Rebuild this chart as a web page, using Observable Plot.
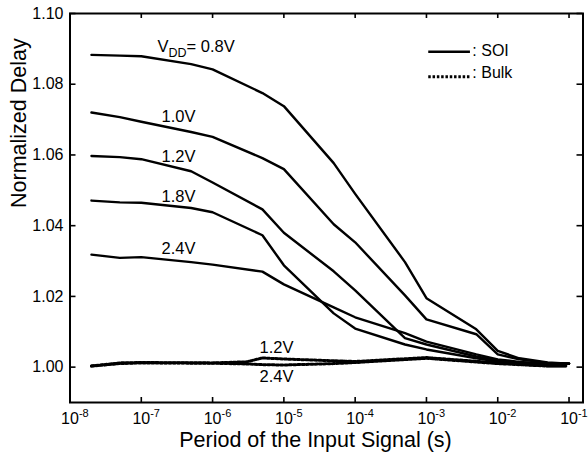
<!DOCTYPE html>
<html><head><meta charset="utf-8">
<script src="https://cdn.jsdelivr.net/npm/d3@7"></script>
<script src="https://cdn.jsdelivr.net/npm/@observablehq/plot@0.6"></script>
<style>
body{margin:0;background:#fff;}
#chart svg{font-family:"Liberation Sans",Arial,Helvetica,sans-serif;}
</style>
</head><body><div id="chart"></div>
<script>
// ---- data ----
const periods = [2e-8, 5e-8, 1e-7, 5e-7, 1e-6, 5e-6, 1e-5, 5e-5, 1e-4, 5e-4, 1e-3, 5e-3, 1e-2, 2e-2, 5e-2, 1e-1];
const soiVdd = ["0.8V", "1.0V", "1.2V", "1.8V", "2.4V"];
const soi08 = [1.0883, 1.0881, 1.0879, 1.0857, 1.0842, 1.0775, 1.0738, 1.0577, 1.0490, 1.0297, 1.0195, 1.0107, 1.0046, 1.0025, 1.0013, 1.0010];
const soi10 = [1.0720, 1.0707, 1.0694, 1.0665, 1.0651, 1.0591, 1.0560, 1.0404, 1.0353, 1.0203, 1.0135, 1.0093, 1.0036, 1.0022, 1.0012, 1.0010];
const soi12 = [1.0597, 1.0594, 1.0588, 1.0554, 1.0522, 1.0446, 1.0380, 1.0271, 1.0217, 1.0082, 1.0064, 1.0030, 1.0019, 1.0013, 1.0010, 1.0010];
const soi18 = [1.0471, 1.0466, 1.0465, 1.0450, 1.0438, 1.0373, 1.0288, 1.0152, 1.0109, 1.0064, 1.0050, 1.0025, 1.0016, 1.0012, 1.0010, 1.0010];
const soi24 = [1.0318, 1.0309, 1.0311, 1.0297, 1.0290, 1.0270, 1.0234, 1.0169, 1.0141, 1.0096, 1.0072, 1.0036, 1.0022, 1.0015, 1.0010, 1.0010];

const bulkPeriods = [2e-8, 5e-8, 1e-7, 1e-6, 3e-6, 5e-6, 1e-5, 5e-5, 1e-4, 1e-3, 1e-2, 5e-2, 9e-2];
const bulkVdd = ["1.2V", "2.4V"];
const bulk12 = [1.0003, 1.0012, 1.0013, 1.0012, 1.0015, 1.0026, 1.0023, 1.0018, 1.0016, 1.0027, 1.0012, 1.0004, 1.0004];
const bulk24 = [1.0003, 1.0010, 1.0012, 1.0011, 1.0009, 1.0007, 1.0006, 1.0010, 1.0013, 1.0025, 1.0010, 1.0003, 1.0003];

const xTicks = [1e-8, 1e-7, 1e-6, 1e-5, 1e-4, 1e-3, 1e-2, 1e-1];
const yTicks = [1.00, 1.02, 1.04, 1.06, 1.08, 1.10];
const xDomain = [1e-8, 0.157];
const yDomain = [0.99, 1.10];

// curve annotations (data coordinates)
const annText = ["VDD= 0.8V", "1.0V", "1.2V", "1.8V", "2.4V", "1.2V", "2.4V"];
const annX = [1.69e-7, 3.33e-7, 3.33e-7, 3.33e-7, 3.33e-7, 7.9e-6, 7.9e-6];
const annY = [1.0906, 1.0707, 1.0595, 1.0481, 1.0335, 1.0054, 0.9973];
const annAnchor = ["start", "middle", "middle", "middle", "middle", "middle", "middle"];

// legend (data coordinates)
const legText = [": SOI", ": Bulk"];
const legX1 = [1.077e-3, 1.077e-3];
const legX2 = [4.14e-3, 4.14e-3];
const legTextX = [4.4e-3, 4.4e-3];
const legLineY = [1.0892, 1.0821];
const legTextY = [1.0894, 1.0831];
const legDash = [null, "2.5,1.8"];

// ---- tables ----
const soiSeries = [soi08, soi10, soi12, soi18, soi24];
const soi = [];
soiSeries.forEach((vals, i) => vals.forEach((v, j) => soi.push({period: periods[j], delay: v, vdd: soiVdd[i]})));
const bulkSeries = [bulk12, bulk24];
const bulk = [];
bulkSeries.forEach((vals, i) => vals.forEach((v, j) => bulk.push({period: bulkPeriods[j], delay: v, vdd: bulkVdd[i]})));
const ann = annText.map((t, i) => ({t, x: annX[i], y: annY[i], a: annAnchor[i]}));
const leg = legText.map((t, i) => ({t, x1: legX1[i], x2: legX2[i], tx: legTextX[i], ly: legLineY[i], ty: legTextY[i], dash: legDash[i]}));

const W = 588, H = 454, mL = 69.5, mR = 5.5, mT = 13, mB = 52;
const plotH = H - mT - mB, plotW = W - mL - mR;
const dash = "2.5,1.8";

const svg = Plot.plot({
  width: W, height: H,
  marginLeft: mL, marginRight: mR, marginTop: mT, marginBottom: mB,
  style: {fontFamily: "'Liberation Sans', Arial, Helvetica, sans-serif", fontSize: "16px", background: "white", color: "black"},
  x: {type: "log", domain: xDomain},
  y: {domain: yDomain},
  marks: [
    Plot.axisX(xTicks, {tickSize: 0, tickPadding: 10, fontSize: 16, tickFormat: d => `10^${Math.round(Math.log10(d))}`, label: null}),
    Plot.axisY(yTicks, {tickSize: 0, tickPadding: 6.5, fontSize: 16, tickFormat: d3.format(".2f"), label: null}),
    // inward ticks on all four sides
    Plot.tickX(xTicks, {x: d => d, insetTop: plotH - 5, stroke: "black", strokeWidth: 1.6}),
    Plot.tickX(xTicks, {x: d => d, insetBottom: plotH - 5, stroke: "black", strokeWidth: 1.6}),
    Plot.tickY(yTicks, {y: d => d, insetRight: plotW - 6, stroke: "black", strokeWidth: 1.6}),
    Plot.tickY(yTicks, {y: d => d, insetLeft: plotW - 6, stroke: "black", strokeWidth: 1.6}),
    Plot.line(bulk, {x: "period", y: "delay", z: "vdd", stroke: "black", strokeWidth: 3, strokeDasharray: dash}),
    Plot.line(soi, {x: "period", y: "delay", z: "vdd", stroke: "black", strokeWidth: 2.4, strokeLinejoin: "round"}),
    Plot.text(ann.filter(d => d.a === "start"), {x: "x", y: "y", text: "t", textAnchor: "start", fontSize: 16.5, fill: "black"}),
    Plot.text(ann.filter(d => d.a === "middle"), {x: "x", y: "y", text: "t", textAnchor: "middle", fontSize: 16.5, fill: "black"}),
    Plot.ruleY(leg.filter(d => !d.dash), {y: "ly", x1: "x1", x2: "x2", stroke: "black", strokeWidth: 2.4}),
    Plot.ruleY(leg.filter(d => d.dash), {y: "ly", x1: "x1", x2: "x2", stroke: "black", strokeWidth: 3, strokeDasharray: dash}),
    Plot.text(leg, {x: "tx", y: "ty", text: "t", textAnchor: "start", fontSize: 16, fill: "black"}),
    Plot.text(["Period of the Input Signal (s)"], {text: d => d, frameAnchor: "bottom", lineAnchor: "middle", dy: 37.5, dx: -11, fontSize: 21.5, fill: "black"}),
    Plot.text(["Normalized Delay"], {text: d => d, frameAnchor: "left", lineAnchor: "middle", rotate: -90, dx: -51, fontSize: 21.5, fill: "black"}),
    Plot.frame({stroke: "black", strokeWidth: 2})
  ]
});

// superscripts / subscripts as real text
d3.select(svg).selectAll("text").each(function () {
  const t = this.textContent;
  const m = /^10\^(-?\d+)$/.exec(t);
  const s = d3.select(this);
  if (m) {
    s.text(null).attr("text-anchor", "start").attr("x", -8.9);
    s.append("tspan").text("10");
    s.append("tspan").attr("font-size", 11).attr("dy", -7).text(m[1]);
  } else if (t === "VDD= 0.8V") {
    s.text(null);
    s.append("tspan").text("V");
    s.append("tspan").attr("font-size", 12.5).attr("dy", 5).text("DD");
    s.append("tspan").attr("dy", -5).text("= 0.8V");
  }
});

document.getElementById("chart").appendChild(svg);
</script>
</body></html>
